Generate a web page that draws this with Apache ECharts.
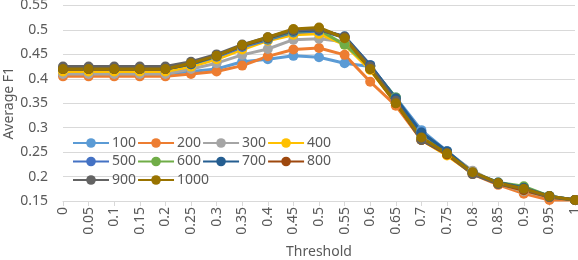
<!DOCTYPE html>
<html><head><meta charset="utf-8">
<script src="https://cdn.jsdelivr.net/npm/echarts@6/dist/echarts.min.js"></script>
<style>html,body{margin:0;padding:0;background:#fff}#c{width:578px;height:260px}</style>
</head><body><div id="c"></div>
<script>
const thresholds = ['0','0.05','0.1','0.15','0.2','0.25','0.3','0.35','0.4','0.45','0.5','0.55','0.6','0.65','0.7','0.75','0.8','0.85','0.9','0.95','1'];
const yTicks = [0.15,0.2,0.25,0.3,0.35,0.4,0.45,0.5,0.55];
const s100  = [0.41,0.41,0.41,0.41,0.41,0.415,0.42,0.435,0.44,0.447,0.444,0.432,0.425,0.362,0.295,0.252,0.21,0.185,0.175,0.16,0.152];
const s200  = [0.405,0.405,0.405,0.405,0.405,0.41,0.415,0.427,0.446,0.46,0.463,0.449,0.394,0.345,0.275,0.245,0.205,0.183,0.165,0.152,0.152];
const s300  = [0.41,0.41,0.41,0.41,0.41,0.42,0.432,0.449,0.461,0.48,0.482,0.476,0.42,0.355,0.28,0.25,0.212,0.185,0.17,0.158,0.152];
const s400  = [0.415,0.415,0.415,0.415,0.415,0.425,0.44,0.46,0.478,0.49,0.492,0.47,0.418,0.35,0.275,0.243,0.206,0.185,0.172,0.158,0.152];
const s500  = [0.42,0.42,0.42,0.42,0.42,0.43,0.445,0.465,0.48,0.495,0.498,0.485,0.428,0.36,0.29,0.25,0.207,0.187,0.178,0.16,0.152];
const s600  = [0.42,0.42,0.42,0.42,0.42,0.43,0.447,0.468,0.482,0.497,0.5,0.47,0.425,0.362,0.28,0.25,0.208,0.188,0.18,0.16,0.152];
const s700  = [0.42,0.42,0.42,0.42,0.42,0.43,0.447,0.468,0.483,0.498,0.5,0.487,0.428,0.36,0.29,0.252,0.208,0.188,0.177,0.16,0.152];
const s800  = [0.42,0.42,0.42,0.42,0.42,0.432,0.448,0.468,0.484,0.5,0.502,0.485,0.42,0.35,0.275,0.245,0.206,0.185,0.172,0.158,0.152];
const s900  = [0.425,0.425,0.425,0.425,0.425,0.435,0.45,0.47,0.485,0.5,0.502,0.485,0.425,0.355,0.275,0.248,0.205,0.185,0.175,0.158,0.152];
const s1000 = [0.42,0.42,0.42,0.42,0.42,0.432,0.447,0.469,0.485,0.502,0.505,0.483,0.42,0.35,0.28,0.247,0.209,0.187,0.175,0.16,0.152];
const names = ['100','200','300','400','500','600','700','800','900','1000'];
const values = [s100,s200,s300,s400,s500,s600,s700,s800,s900,s1000];
const colors = ['#5B9BD5','#ED7D31','#A5A5A5','#FFC000','#4472C4','#70AD47','#255E91','#9E480E','#636363','#997300'];

const font = '"Noto Sans", sans-serif';
const txt = '#595959';
const chart = echarts.init(document.getElementById('c'));
const legendBase = {
  left: 72, itemWidth: 36, itemHeight: 12, itemGap: 1,
  textStyle: {color: txt, fontSize: 14, fontFamily: font, width: 33, padding: [0,0,0,-2]},
  padding: 0
};
chart.setOption({
  animation: false,
  color: colors,
  grid: {left: 63, right: 3, top: 5.5, bottom: 59, outerBoundsMode: 'none', containLabel: false},
  legend: [
    Object.assign({}, legendBase, {top: 136, data: names.slice(0,4)}),
    Object.assign({}, legendBase, {top: 154.5, data: names.slice(4,8)}),
    Object.assign({}, legendBase, {top: 173, data: names.slice(8,10)})
  ],
  xAxis: {
    type: 'category', data: thresholds, boundaryGap: false,
    name: 'Threshold', nameLocation: 'middle', nameGap: 44, nameMoveOverlap: false,
    nameTextStyle: {color: txt, fontSize: 14, fontFamily: font},
    axisLine: {lineStyle: {color: '#d9d9d9', width: 1}},
    axisTick: {show: true, length: 5, lineStyle: {color: '#d9d9d9'}},
    axisLabel: {interval: 0, rotate: 90, color: txt, fontSize: 14, fontFamily: font, margin: 6},
    splitLine: {show: false}
  },
  yAxis: {
    type: 'value', min: 0.15, max: 0.55, interval: 0.05,
    name: 'Average F1', nameLocation: 'middle', nameGap: 47, nameMoveOverlap: false,
    nameTextStyle: {color: txt, fontSize: 14, fontFamily: font},
    axisLine: {show: false}, axisTick: {show: false},
    axisLabel: {color: txt, fontSize: 14, fontFamily: font, margin: 15,
      formatter: v => { const t = yTicks.find(x => Math.abs(x - v) < 1e-6); return String(t !== undefined ? t : v); }},
    splitLine: {lineStyle: {color: '#d9d9d9', width: 1}}
  },
  series: names.map((n, i) => ({
    name: n, type: 'line', data: values[i],
    symbol: 'circle', symbolSize: 10,
    lineStyle: {width: 3, color: colors[i]},
    itemStyle: {color: colors[i]}
  }))
});
</script></body></html>
